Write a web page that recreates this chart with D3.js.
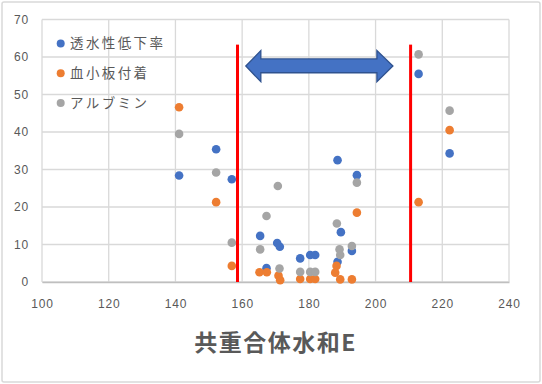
<!DOCTYPE html>
<html><head><meta charset="utf-8">
<script src="https://cdn.jsdelivr.net/npm/d3@7"></script>
<style>
html,body{margin:0;padding:0;background:#fff;}
svg{display:block;}
</style></head>
<body>
<svg id="chart" width="542" height="384"></svg>
<script>
// ---- data ----
const seriesNames = ["透水性低下率", "血小板付着", "アルブミン"];
const seriesColors = ["#4472c4", "#ed7d31", "#a5a5a5"];
const xBlue   = [141.1, 152.2, 156.9, 165.4, 167.3, 170.5, 171.3, 177.4, 180.4, 181.9, 188.6, 189.6, 188.6, 192.9, 194.4, 212.9, 222.2];
const yBlue   = [28.4, 35.4, 27.4, 12.3, 3.7, 10.4, 9.4, 6.3, 7.2, 7.2, 32.5, 13.3, 5.4, 8.3, 28.5, 55.5, 34.3];
const xOrange = [141.1, 152.2, 156.9, 165.2, 167.4, 170.9, 171.4, 177.4, 180.4, 181.9, 188.3, 187.9, 189.4, 192.9, 194.4, 212.9, 222.2];
const yOrange = [46.6, 21.3, 4.3, 2.6, 2.6, 1.7, 0.5, 0.8, 0.8, 0.8, 4.3, 2.5, 0.7, 0.7, 18.5, 21.3, 40.5];
const xGray   = [141.1, 152.2, 156.9, 165.4, 167.3, 170.7, 171.2, 177.4, 180.4, 181.9, 188.4, 189.2, 189.4, 192.9, 194.4, 212.9, 222.2];
const yGray   = [39.5, 29.2, 10.5, 8.7, 17.6, 25.6, 3.6, 2.7, 2.7, 2.7, 15.6, 8.7, 7.2, 9.6, 26.5, 60.7, 45.7];
const xTicks = [100, 120, 140, 160, 180, 200, 220, 240];
const yTicks = [0, 10, 20, 30, 40, 50, 60, 70];
const xTitle = "共重合体水和E";
// annotation (data units)
const redLinesX = [158.6, 210.5];
const redLineTop = 63.3;
const arrowX = {tipL: 161.1, headL: 165.6, headR: 200.4, tipR: 205.2};
const arrowY = {center: 57.6, headTop: 61.7, headBot: 53.4, shaftTop: 59.5, shaftBot: 55.8};

// ---- layout ----
const svg = d3.select("#chart");
const plot = {left: 42, right: 509, top: 19.5, bottom: 282};
const x = d3.scaleLinear().domain([100, 240]).range([plot.left, plot.right]);
const y = d3.scaleLinear().domain([0, 70]).range([plot.bottom, plot.top]);

// chart border
svg.append("rect").attr("x", 2).attr("y", 2).attr("width", 538).attr("height", 380)
  .attr("rx", 2).attr("fill", "#fff").attr("stroke", "#d9d9d9").attr("stroke-width", 1.5);

// gridlines
const g = svg.append("g");
g.selectAll(".vg").data(xTicks).join("line")
  .attr("x1", d => x(d)).attr("x2", d => x(d)).attr("y1", plot.top).attr("y2", plot.bottom)
  .attr("stroke", "#d9d9d9").attr("stroke-width", 1.3);
g.selectAll(".hg").data(yTicks).join("line")
  .attr("x1", plot.left).attr("x2", plot.right).attr("y1", d => y(d)).attr("y2", d => y(d))
  .attr("stroke", "#d9d9d9").attr("stroke-width", 1.3);

// axes
const tickFont = "'Liberation Sans', Arial, sans-serif";
const xAxis = svg.append("g").attr("transform", `translate(0,${plot.bottom})`)
  .call(d3.axisBottom(x).tickValues(xTicks).tickSize(0).tickPadding(17).tickFormat(d3.format("d")));
xAxis.select(".domain").attr("stroke", "#bfbfbf").attr("stroke-width", 1.3);
const yAxis = svg.append("g").attr("transform", `translate(${plot.left},0)`)
  .call(d3.axisLeft(y).tickValues(yTicks).tickSize(0).tickPadding(13).tickFormat(d3.format("d")));
yAxis.select(".domain").remove();
svg.selectAll(".tick text").attr("fill", "#595959").style("font-family", tickFont)
  .style("font-size", "12px").style("letter-spacing", "0.8px");

// red lines
svg.selectAll(".red").data(redLinesX).join("line")
  .attr("x1", d => x(d)).attr("x2", d => x(d)).attr("y1", y(redLineTop)).attr("y2", y(0))
  .attr("stroke", "#ff0000").attr("stroke-width", 3);

// double arrow
const arrowPts = [
  [arrowX.tipL, arrowY.center], [arrowX.headL, arrowY.headTop], [arrowX.headL, arrowY.shaftTop],
  [arrowX.headR, arrowY.shaftTop], [arrowX.headR, arrowY.headTop], [arrowX.tipR, arrowY.center],
  [arrowX.headR, arrowY.headBot], [arrowX.headR, arrowY.shaftBot], [arrowX.headL, arrowY.shaftBot],
  [arrowX.headL, arrowY.headBot]
];
svg.append("path")
  .attr("d", d3.line().x(d => x(d[0])).y(d => y(d[1]))(arrowPts) + "Z")
  .attr("fill", "#4472c4").attr("stroke", "#2f528f").attr("stroke-width", 1.3);

// points
const series = [[xBlue, yBlue], [xOrange, yOrange], [xGray, yGray]];
series.forEach(([xs, ys], i) => {
  svg.append("g").selectAll("circle").data(d3.zip(xs, ys)).join("circle")
    .attr("cx", d => x(d[0])).attr("cy", d => y(d[1])).attr("r", 4.3)
    .attr("fill", seriesColors[i]);
});

// legend
const legend = svg.append("g");
seriesNames.forEach((name, i) => {
  const ly = 43.5 + i * 29.7;
  legend.append("circle").attr("cx", 60.7).attr("cy", ly).attr("r", 4).attr("fill", seriesColors[i]);
  legend.append("text").attr("x", 70).attr("y", ly).attr("dy", "0.36em")
    .text(name).attr("fill", "#595959")
    .style("font-family", "'Noto Sans CJK JP', sans-serif").style("font-size", "13.5px")
    .style("letter-spacing", "2.4px");
});

// x title
svg.append("text").attr("x", (plot.left + plot.right) / 2).attr("y", 351)
  .attr("text-anchor", "middle").text(xTitle).attr("fill", "#595959")
  .style("font-family", "'Noto Sans CJK JP', sans-serif").style("font-size", "23px")
  .style("font-weight", "bold").style("letter-spacing", "1.5px");
</script>
</body></html>
